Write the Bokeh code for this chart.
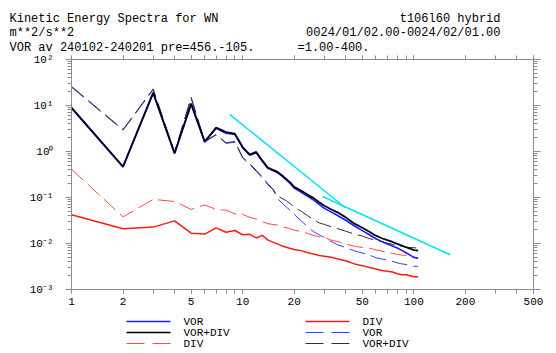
from bokeh.plotting import figure
from bokeh.models import LogAxis, FixedTicker, Range1d, CustomJSTickFormatter
from bokeh.layouts import column
from bokeh.embed import file_html
from bokeh.resources import INLINE
from bokeh.core.properties import value

# ---------------- data ----------------
wn = [1, 2, 3, 4, 5, 6, 7, 8, 9, 10, 11, 12, 13, 14, 15, 16, 17, 18, 19, 20,
      22, 24, 26, 28, 30, 33, 36, 40,
      45, 50, 55, 60, 65, 70, 75, 80, 85, 90, 95, 100, 106]

vor_solid = [8.8, 0.46, 18.5, 0.9, 10.7, 1.6, 3.2, 2.5, 2.35, 1.2, 0.83, 0.94, 0.62, 0.43, 0.385, 0.345, 0.29, 0.24, 0.2, 0.16,
             0.13, 0.106, 0.088, 0.071, 0.058, 0.048, 0.04, 0.032,
             0.024, 0.019, 0.0155, 0.0127, 0.011, 0.0097, 0.0088, 0.008, 0.0071, 0.0063, 0.0056, 0.005, 0.0048]

vordiv_solid = [9, 0.47, 19, 0.92, 11, 1.65, 3.3, 2.63, 2.45, 1.25, 0.86, 0.98, 0.64, 0.45, 0.40, 0.36, 0.30, 0.25, 0.21, 0.17,
                0.14, 0.115, 0.097, 0.079, 0.066, 0.055, 0.047, 0.037,
                0.027, 0.022, 0.018, 0.0148, 0.013, 0.0118, 0.0108, 0.0098, 0.009, 0.0083, 0.0077, 0.0072, 0.0070]

div_dash = [0.41, 0.038, 0.091, 0.082, 0.055, 0.069, 0.055, 0.053, 0.044, 0.043, 0.037, 0.034, 0.03, 0.027, 0.026, 0.025, 0.023, 0.022, 0.021, 0.0195,
            0.0182, 0.0165, 0.015, 0.014, 0.0135, 0.0118, 0.011, 0.0098,
            0.0087, 0.0082, 0.0079, 0.0073, 0.0068, 0.0064, 0.0061, 0.0058, 0.0056, 0.0055, 0.0052, 0.005, 0.0049]

div_solid = [0.042, 0.021, 0.0227, 0.031, 0.0168, 0.016, 0.0219, 0.0176, 0.0192, 0.0155, 0.0158, 0.0132, 0.015, 0.012, 0.0107, 0.0098, 0.0088, 0.0083, 0.0078, 0.0074,
             0.007, 0.0063, 0.0059, 0.0055, 0.0053, 0.005, 0.0046, 0.0042,
             0.0036, 0.0033, 0.003, 0.0028, 0.0026, 0.0025, 0.0024, 0.0022, 0.0021, 0.0021, 0.002, 0.0019, 0.0019]

vor_dash = [25, 2.9, 22, 0.93, 14.5, 1.6, 2.3, 1.5, 1.6, 0.72, 0.52, 0.37, 0.27, 0.19, 0.15, 0.095, 0.075, 0.062, 0.052, 0.043,
            0.031, 0.023, 0.018, 0.0155, 0.0135, 0.011, 0.0093, 0.0082,
            0.0069, 0.0062, 0.0056, 0.0049, 0.0046, 0.0044, 0.0041, 0.0038, 0.0036, 0.0035, 0.0033, 0.0032, 0.0032]

vordiv_dash = [26, 3.0, 23, 0.95, 15, 1.65, 2.35, 1.55, 1.65, 0.75, 0.54, 0.39, 0.28, 0.2, 0.155, 0.108, 0.095, 0.085, 0.073, 0.062,
               0.05, 0.04, 0.033, 0.028, 0.026, 0.023, 0.021, 0.0185,
               0.016, 0.0145, 0.0128, 0.0118, 0.011, 0.0102, 0.0096, 0.0091, 0.0087, 0.0084, 0.0082, 0.0081, 0.0079]

ref_steep_k = [8.4, 40]
ref_steep_v = [6.4, 0.059]
ref_shallow_k = [29.3, 163]
ref_shallow_v = [0.105, 0.0057]

x_ticks = [1, 2, 5, 10, 20, 50, 100, 200, 500]
y_ticks = [1e-3, 1e-2, 1e-1, 1, 10, 100]

header_left = ["Kinetic Energy Spectra for WN", "m**2/s**2", "VOR av 240102-240201 pre=456.-105."]
header_right = ["t106l60 hybrid", "0024/01/02.00-0024/02/01.00"]
header_mid = ["=1.00-400."]

legend_left = ["VOR", "VOR+DIV", "DIV"]
legend_right = ["DIV", "VOR", "VOR+DIV"]

# ---------------- styles ----------------
FONT = value("Liberation Mono")
GRAY = "#8c8c8c"
W = 556
HDR_H = 56
OVERLAP = 4

x_minor = [m * d for d in (1, 10, 100) for m in range(1, 10) if m * d <= 500]
y_minor = [m * d for d in (1e-3, 1e-2, 1e-1, 1, 10) for m in range(1, 10)]

def blank_fig(h):
    f = figure(width=W, height=h, x_range=Range1d(0, W), y_range=Range1d(h, 0),
               x_axis_type=None, y_axis_type=None, toolbar_location=None,
               output_backend="svg", min_border=0, min_border_left=0, min_border_right=0,
               min_border_top=0, min_border_bottom=0, outline_line_color=None,
               frame_align=False)
    return f

# ---------------- header ----------------
hdr = blank_fig(HDR_H)
hdr.text(x=[9, 9, 9], y=[18, 32, 47], text=header_left, text_font=FONT,
         text_font_size="12px", text_baseline="alphabetic", text_align="left", text_color="black")
hdr.text(x=[500, 500], y=[18, 32], text=header_right, text_font=FONT,
         text_font_size="12px", text_baseline="alphabetic", text_align="right", text_color="black")
hdr.text(x=[297], y=[47], text=header_mid, text_font=FONT,
         text_font_size="12px", text_baseline="alphabetic", text_align="left", text_color="black")

# ---------------- main plot ----------------
TOP_B = 59 - HDR_H + OVERLAP
p = figure(width=W, height=311 - HDR_H + OVERLAP, x_axis_type="log", y_axis_type="log",
           x_range=Range1d(1, 500), y_range=Range1d(1e-3, 1e2),
           toolbar_location=None, output_backend="svg",
           min_border_left=71, min_border_right=23, min_border_top=TOP_B, min_border_bottom=22,
           outline_line_color=GRAY, frame_align=False, margin=(-OVERLAP, 0, 0, 0),
           border_fill_alpha=0)
p.grid.visible = False

xt = FixedTicker(ticks=x_ticks, minor_ticks=x_minor)
yt = FixedTicker(ticks=y_ticks, minor_ticks=y_minor)

sup_code = """
const e = Math.round(Math.log10(tick));
const sup = {"-": "\u207b", "0": "\u2070", "1": "\u00b9", "2": "\u00b2", "3": "\u00b3"};
return "10" + String(e).split("").map(c => sup[c]).join("");
"""

def style_axis(ax, tout, mout):
    ax.axis_line_color = GRAY
    ax.major_tick_line_color = GRAY
    ax.minor_tick_line_color = GRAY
    ax.major_tick_in = 0
    ax.minor_tick_in = 0
    ax.major_tick_out = tout
    ax.minor_tick_out = mout
    ax.major_label_text_font = "Liberation Mono"
    ax.major_label_text_font_size = "11px"
    ax.major_label_text_color = "black"

xa = p.xaxis[0]
xa.ticker = xt
xa.formatter = CustomJSTickFormatter(code="return String(tick);")
style_axis(xa, 4, 4)
xa.major_label_standoff = 4

ya = p.yaxis[0]
ya.ticker = yt
ya.formatter = CustomJSTickFormatter(code=sup_code)
style_axis(ya, 6, 4)
ya.major_label_standoff = 12

blank = "return '';"
top = LogAxis(ticker=xt, formatter=CustomJSTickFormatter(code=blank))
style_axis(top, 4, 4)
top.major_label_text_font_size = "0px"
top.major_label_standoff = 0
p.add_layout(top, "above")

right = LogAxis(ticker=yt, formatter=CustomJSTickFormatter(code=blank))
style_axis(right, 7, 4)
right.major_label_text_font_size = "0px"
right.major_label_standoff = 0
p.add_layout(right, "right")

DASH = "16 6"
p.line(wn, div_dash, line_color="#ff4a4a", line_width=1, line_dash=DASH)
p.line(wn, div_solid, line_color="#ff1a1a", line_width=1.5)
p.line(wn, vor_dash, line_color="#3c3cff", line_width=1, line_dash=DASH)
p.line(wn, vordiv_dash, line_color="#303030", line_width=1, line_dash=DASH)
p.line(wn, vor_solid, line_color="#1a1aff", line_width=1.6)
p.line(wn, vordiv_solid, line_color="#000020", line_width=1.8)
p.line(ref_steep_k, ref_steep_v, line_color="#00e5ee", line_width=1.5)
p.line(ref_shallow_k, ref_shallow_v, line_color="#00e5ee", line_width=1.5)

# ---------------- legend ----------------
leg = blank_fig(42)
rows = [10, 21, 32]
left_styles = [("#1a1aff", 1.6, "solid"), ("#000000", 1.6, "solid"), ("#ff4a4a", 1, "18 8")]
right_styles = [("#ff1a1a", 1.5, "solid"), ("#3c3cff", 1, "18 8"), ("#303030", 1, "18 8")]
for yy, (c, w, d) in zip(rows, left_styles):
    leg.segment(x0=[126], y0=[yy], x1=[170], y1=[yy], line_color=c, line_width=w, line_dash=d)
for yy, (c, w, d) in zip(rows, right_styles):
    leg.segment(x0=[305], y0=[yy], x1=[349], y1=[yy], line_color=c, line_width=w, line_dash=d)
leg.text(x=[183] * 3, y=rows, text=legend_left, text_font=FONT, text_font_size="11px",
         text_baseline="middle", text_align="left", text_color="black")
leg.text(x=[362] * 3, y=rows, text=legend_right, text_font=FONT, text_font_size="11px",
         text_baseline="middle", text_align="left", text_color="black")

layout = column(hdr, p, leg, spacing=0)
open("out.html", "w").write(file_html(layout, INLINE))
